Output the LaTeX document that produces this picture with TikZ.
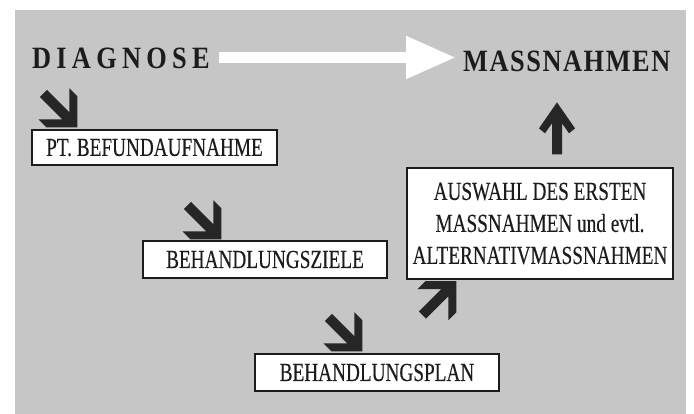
\documentclass[tikz,border=0pt]{standalone}
\usepackage{fontspec}
\setmainfont{Liberation Serif}
\newfontfamily\boxfont{Liberation Serif}[FakeStretch=0.74,FakeBold=0.25]
\newfontfamily\headfont{Liberation Serif}[FakeStretch=0.85]
\usetikzlibrary{arrows.meta}
\definecolor{bggray}{RGB}{198,198,198}
\definecolor{ink}{RGB}{28,28,28}
\definecolor{arrowcol}{RGB}{38,38,38}
\tikzset{
  box/.style={draw=ink, line width=1.3pt, fill=white, inner sep=0pt, text=ink,
    font=\boxfont\fontsize{26}{32}\selectfont, align=center},
  head/.style={inner sep=0pt, anchor=base west, text=ink},
  whitearrow/.style={draw=white, line width=11pt, -{Triangle[length=50pt,width=40pt]}},
  diagarrow/.pic={
    \fill[arrowcol] (0,0) -- (-21.92,21.92) -- (-33.23,21.92) -- (-16.31,5) -- (-48,5)
      -- (-48,-5) -- (-16.31,-5) -- (-33.23,-21.92) -- (-21.92,-21.92) -- cycle;
  },
  uparrow/.pic={
    \fill[arrowcol] (0,0) -- (18,26) -- (12,31) -- (5,21) -- (5,52) -- (-5,52)
      -- (-5,21) -- (-12,31) -- (-18,26) -- cycle;
  }
}
\begin{document}
\begin{tikzpicture}[x=1pt,y=-1pt]
\useasboundingbox (0,0) rectangle (694,414);
\fill[bggray] (15,10) rectangle (686,414);

\node[head, font=\headfont\bfseries\fontsize{31}{31}\selectfont\addfontfeature{LetterSpace=17}] (diag) at (32,69) {DIAGNOSE};
\node[head, font=\headfont\bfseries\fontsize{31}{31}\selectfont\addfontfeature{LetterSpace=5}] (mass) at (463,72) {MASSNAHMEN};

\node[box, minimum width=245, minimum height=35] (pt) at (154.5,147.5) {PT. BEFUNDAUFNAHME};
\node[box, minimum width=244, minimum height=37] (bz) at (265,259.5) {BEHANDLUNGSZIELE};
\node[box, minimum width=244, minimum height=37] (bp) at (377,372.5) {BEHANDLUNGSPLAN};
\node[box, minimum width=266, minimum height=111] (aw) at (540,223.5) {AUSWAHL DES ERSTEN\\MASSNAHMEN und evtl.\\ALTERNATIVMASSNAHMEN};

\coordinate (w1) at ([shift={(9,-11.5)}]diag.base east);
\coordinate (w2) at ([shift={(-7,0)}]mass.base west);
\draw[whitearrow] (w1) -- (w2 |- w1);

\coordinate (a1) at ([shift={(46,-2)}]pt.north west);
\coordinate (a2) at ([shift={(79,-1)}]bz.north west);
\coordinate (a3) at ([shift={(108,-2)}]bp.north west);
\coordinate (a4) at ([shift={(50,1.5)}]aw.south west);
\coordinate (ut) at ([shift={(17,-65)}]aw.north);
\pic[rotate=-45] at (a1) {diagarrow};
\pic[rotate=-45] at (a2) {diagarrow};
\pic[rotate=-45] at (a3) {diagarrow};
\pic[rotate=45] at (a4) {diagarrow};
\pic at (ut) {uparrow};
\end{tikzpicture}
\end{document}
